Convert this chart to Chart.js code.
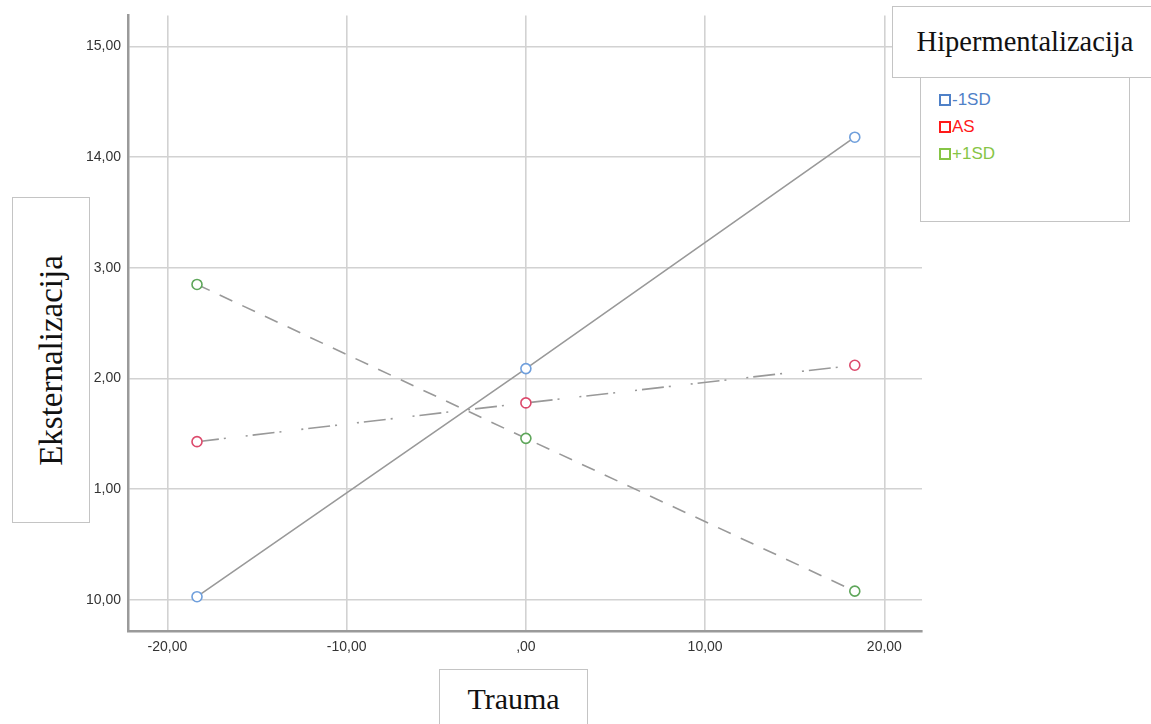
<!DOCTYPE html>
<html>
  <head>
    <title>Hipermentalizacija</title>
    <style>
      body {
        margin: 0;
        background: white;
      }

      .wrap {
        position: relative;
        width: 1151px;
        height: 724px;
        overflow: hidden;
      }

      .box {
        position: absolute;
        background: white;
        border: 1.5px solid #c4c4c4;
        box-sizing: border-box;
        display: flex;
        justify-content: center;
        align-items: center;
        font-family: "Liberation Serif", "DejaVu Serif", serif;
        color: #111;
      }

      .legendTitle {
        left: 892px;
        top: 6px;
        width: 260px;
        height: 72px;
        font-size: 28.5px;
        padding-left: 6px;
      }

      .legendList {
        position: absolute;
        left: 920px;
        top: 76px;
        width: 210px;
        height: 146px;
        border: 1.5px solid #c4c4c4;
        border-top: none;
        box-sizing: border-box;
        background: white;
        padding-top: 10px;
        padding-left: 18px;
        font-family: "Liberation Sans", Arial, sans-serif;
        font-size: 17px;
      }

      .legendList div {
        height: 27px;
        display: flex;
        align-items: center;
      }

      .legendList span.sq {
        display: inline-block;
        width: 8px;
        height: 8px;
        border: 2px solid currentColor;
        margin-right: 1px;
      }

      .yTitle {
        left: 12px;
        top: 197px;
        width: 78px;
        height: 326px;
      }

      .yTitle span {
        transform: rotate(-90deg);
        white-space: nowrap;
        font-size: 33px;
      }

      .xTitle {
        left: 439px;
        top: 669px;
        width: 149px;
        height: 70px;
        font-size: 30px;
        padding-bottom: 10px;
      }
    </style>
  </head>
  <body>
    <div class="wrap">
      <canvas id="chart" width="1151" height="724"></canvas>
      <div class="box yTitle"><span>Eksternalizacija</span></div>
      <div class="box xTitle">Trauma</div>
      <div class="legendList" id="legend"></div>
      <div class="box legendTitle">Hipermentalizacija</div>
    </div>

    <script src="https://cdn.jsdelivr.net/npm/chart.js"></script>
    <script>
      // values
      var traumaValues = [-18.35, 0, 18.35]

      var seriesNames = ['-1SD', 'AS', '+1SD']
      var lowValues = [10.03, 12.09, 14.18]
      var meanValues = [11.43, 11.78, 12.12]
      var highValues = [12.85, 11.46, 10.08]

      var xTickValues = [-20, -10, 0, 10, 20]
      var xTickLabels = ['-20,00', '-10,00', ',00', '10,00', '20,00']
      var yTickValues = [10, 11, 12, 13, 14, 15]
      var yTickLabels = ['10,00', '1,00', '2,00', '3,00', '14,00', '15,00']

      var pointColors = ['#6f9fdc', '#dc4a6c', '#5ea65a']
      var legendColors = ['#4f81c8', '#ff1a1a', '#86c546']
      var lineDashes = [[], [22, 5, 2, 20, 2, 5], [14, 11]]

      function toPoints(values) {
        return values.map(function (v, i) {
          return { x: traumaValues[i], y: v };
        });
      }

      var allValues = [lowValues, meanValues, highValues];

      var datasets = allValues.map(function (values, i) {
        return {
          label: seriesNames[i],
          data: toPoints(values),
          showLine: true,
          borderColor: '#999999',
          borderWidth: 1.6,
          borderDash: lineDashes[i],
          pointStyle: 'circle',
          pointRadius: 5,
          pointBorderWidth: 1.6,
          pointBorderColor: pointColors[i],
          pointBackgroundColor: 'white',
          order: 3 - i
        };
      });

      // legend in its own box, like the reference
      var legend = document.getElementById('legend');
      seriesNames.forEach(function (name, i) {
        var row = document.createElement('div');
        row.style.color = legendColors[i];
        var sq = document.createElement('span');
        sq.className = 'sq';
        row.appendChild(sq);
        row.appendChild(document.createTextNode(name));
        legend.appendChild(row);
      });

      const ctx = document.getElementById('chart');

      const chart = new Chart(ctx, {
        type: 'scatter',
        data: { datasets: datasets },
        options: {
          responsive: false,
          animation: false,
          layout: {
            padding: { left: 0, top: 15, right: 229, bottom: 0 }
          },
          plugins: {
            legend: { display: false },
            tooltip: { enabled: false }
          },
          scales: {
            x: {
              type: 'linear',
              min: -22.2,
              max: 22.1,
              afterBuildTicks: function (scale) {
                scale.ticks = xTickValues.map(function (v) { return { value: v }; });
              },
              afterFit: function (scale) { scale.height = 93; },
              ticks: {
                padding: 8,
                color: '#333333',
                font: { family: 'Liberation Sans', size: 14 },
                maxRotation: 0,
                callback: function (value) {
                  return xTickLabels[xTickValues.indexOf(value)];
                }
              },
              grid: {
                color: '#d2d2d2',
                lineWidth: 1.6,
                drawTicks: false
              },
              border: { color: '#9a9a9a', width: 2.5 }
            },
            y: {
              type: 'linear',
              min: 9.72,
              max: 15.28,
              afterBuildTicks: function (scale) {
                scale.ticks = yTickValues.map(function (v) { return { value: v }; });
              },
              afterFit: function (scale) { scale.width = 128; },
              ticks: {
                padding: 7,
                color: '#333333',
                font: { family: 'Liberation Sans', size: 14 },
                callback: function (value) {
                  return yTickLabels[yTickValues.indexOf(value)];
                }
              },
              grid: {
                color: '#d2d2d2',
                lineWidth: 1.6,
                drawTicks: false
              },
              border: { color: '#9a9a9a', width: 2.5 }
            }
          }
        }
      });
    </script>
  </body>
</html>
